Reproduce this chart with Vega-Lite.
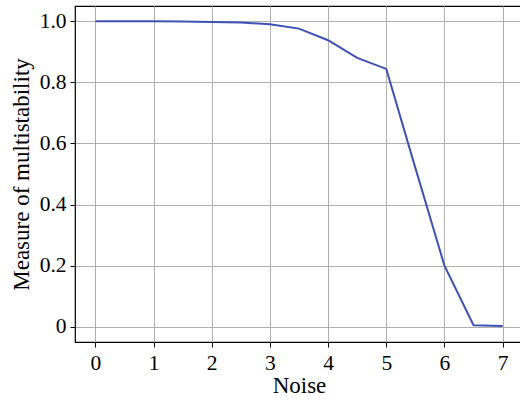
{
  "$schema": "https://vega.github.io/schema/vega-lite/v6.json",
  "width": 448,
  "height": 336,
  "autosize": {"type": "none"},
  "padding": {"left": 75, "top": 6, "right": 0, "bottom": 58},
  "config": {
    "view": {"stroke": "#000000", "strokeWidth": 1.2},
    "font": "Liberation Serif",
    "axis": {
      "labelFont": "Liberation Serif",
      "titleFont": "Liberation Serif",
      "labelFontSize": 21.5,
      "titleFontSize": 23,
      "titleFontWeight": "normal",
      "labelColor": "#000000",
      "titleColor": "#000000",
      "domain": false,
      "tickColor": "#000000",
      "tickSize": 5,
      "tickWidth": 1,
      "gridColor": "#b0b0b0",
      "gridWidth": 1,
      "gridOpacity": 1
    }
  },
  "data": {
    "values": [
      {"noise": 0, "m": 1.0},
      {"noise": 0.5, "m": 1.0},
      {"noise": 1, "m": 1.0},
      {"noise": 1.5, "m": 0.999},
      {"noise": 2, "m": 0.998},
      {"noise": 2.5, "m": 0.996},
      {"noise": 3, "m": 0.99},
      {"noise": 3.5, "m": 0.976},
      {"noise": 4, "m": 0.938},
      {"noise": 4.5, "m": 0.88},
      {"noise": 5, "m": 0.844},
      {"noise": 5.5, "m": 0.52},
      {"noise": 6, "m": 0.2},
      {"noise": 6.5, "m": 0.005},
      {"noise": 7, "m": 0.002}
    ]
  },
  "mark": {"type": "line", "color": "#3f51b5", "strokeWidth": 2, "clip": true},
  "encoding": {
    "x": {
      "field": "noise",
      "type": "quantitative",
      "scale": {"domain": [-0.35, 7.35], "nice": false, "zero": false},
      "axis": {"title": "Noise", "values": [0, 1, 2, 3, 4, 5, 6, 7], "format": "d", "labelPadding": 5, "titlePadding": 1}
    },
    "y": {
      "field": "m",
      "type": "quantitative",
      "scale": {"domain": [-0.05, 1.05], "nice": false, "zero": false},
      "axis": {
        "title": "Measure of multistability",
        "values": [0, 0.2, 0.4, 0.6, 0.8, 1.0],
        "labelExpr": "datum.value == 0 ? '0' : format(datum.value, '.1f')",
        "labelPadding": 4,
        "titlePadding": 6
      }
    }
  }
}
